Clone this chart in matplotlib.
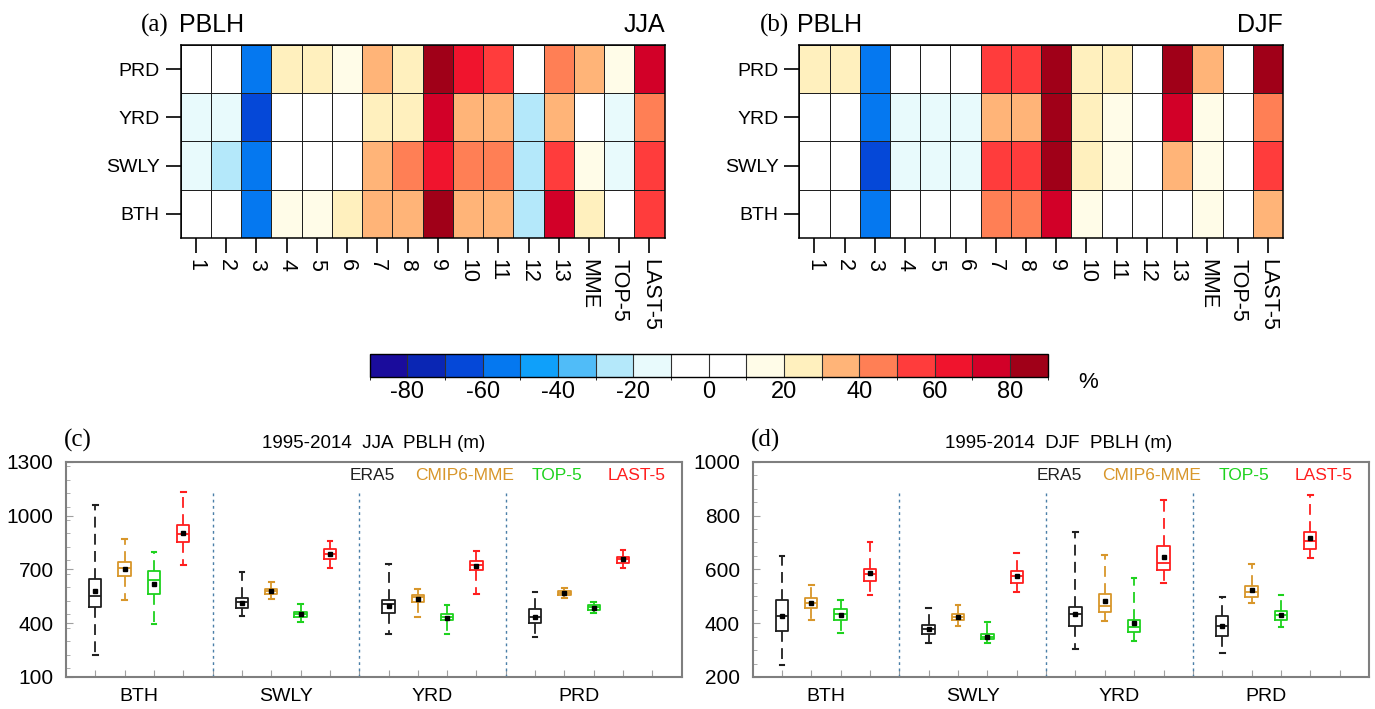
import numpy as np
import matplotlib
matplotlib.use("Agg")
import matplotlib.pyplot as plt
from matplotlib.colors import ListedColormap, BoundaryNorm
from matplotlib.cm import ScalarMappable
from matplotlib.ticker import MultipleLocator

plt.rcParams['font.family'] = ['Liberation Sans', 'DejaVu Sans']

W, H = 1375, 709

# colorbar levels and colours
niveles = np.arange(-90, 91, 10)
colores = ['#1a0c9c', '#0a26b4', '#0548d8', '#0578f0', '#0fa0fa', '#50bcf8',
           '#b4e8fa', '#e8fafc', '#ffffff', '#ffffff', '#fffce8', '#fff0be',
           '#ffb478', '#ff7f55', '#ff3c3c', '#f0142d', '#d20028', '#a00018']

modelos = ['1', '2', '3', '4', '5', '6', '7', '8', '9', '10', '11', '12', '13',
           'MME', 'TOP-5', 'LAST-5']
regiones_heat = ['PRD', 'YRD', 'SWLY', 'BTH']

# relative bias (%) for JJA, rows PRD, YRD, SWLY, BTH
jja_prd = [5, 5, -55, 25, 25, 15, 35, 25, 85, 65, 55, 5, 45, 35, 15, 75]
jja_yrd = [-15, -15, -65, 5, 5, 5, 25, 25, 75, 35, 35, -25, 35, 5, -15, 45]
jja_swly = [-15, -25, -55, 5, 5, 5, 35, 45, 65, 45, 45, -25, 55, 15, -15, 55]
jja_bth = [5, 5, -55, 15, 15, 25, 35, 35, 85, 35, 35, -25, 75, 25, 5, 55]

# relative bias (%) for DJF
djf_prd = [25, 25, -55, 5, 5, 5, 55, 55, 85, 25, 25, 5, 85, 35, 5, 85]
djf_yrd = [5, 5, -55, -15, -15, -15, 35, 35, 85, 25, 15, 5, 75, 15, 5, 45]
djf_swly = [5, 5, -65, -15, -15, -15, 55, 55, 85, 25, 15, 5, 35, 15, 5, 55]
djf_bth = [5, 5, -55, 5, 5, 5, 45, 45, 75, 15, 5, 5, 5, 15, 5, 35]

# box statistics [whislo, q1, med, q3, whishi, mean] for BTH, SWLY, YRD, PRD
regiones_box = ['BTH', 'SWLY', 'YRD', 'PRD']
series = ['ERA5', 'CMIP6-MME', 'TOP-5', 'LAST-5']
series_col = ['#202020', '#d8962a', '#1ed21e', '#ff1e1e']

jja_era5 = [[223, 490, 551, 648, 1058, 577], [440, 483, 516, 538, 685, 514],
            [341, 458, 505, 529, 730, 497], [325, 399, 432, 477, 576, 436]]
jja_mme = [[529, 663, 706, 743, 869, 700], [533, 562, 577, 590, 627, 577],
           [436, 520, 544, 555, 590, 533], [538, 559, 570, 577, 594, 568]]
jja_top5 = [[395, 561, 641, 691, 795, 620], [405, 432, 449, 462, 505, 449],
            [341, 416, 434, 449, 499, 431], [455, 475, 488, 499, 520, 486]]
jja_last5 = [[724, 852, 895, 945, 1129, 901], [707, 756, 784, 811, 858, 784],
             [564, 694, 726, 745, 802, 717], [707, 737, 756, 769, 810, 756]]
jja_yticks = [100, 400, 700, 1000, 1300]

djf_era5 = [[245, 371, 428, 485, 648, 428], [326, 361, 377, 392, 458, 377],
            [305, 389, 434, 461, 737, 434], [288, 352, 391, 427, 498, 391]]
djf_mme = [[412, 458, 475, 492, 541, 475], [388, 412, 423, 433, 467, 422],
           [409, 443, 465, 510, 653, 482], [476, 496, 517, 539, 619, 522]]
djf_top5 = [[362, 412, 434, 451, 487, 432], [328, 340, 349, 360, 403, 350],
            [335, 368, 387, 412, 567, 399], [387, 411, 429, 446, 505, 430]]
djf_last5 = [[505, 558, 583, 602, 700, 585], [517, 550, 575, 594, 659, 576],
             [549, 599, 622, 688, 858, 647], [642, 674, 707, 739, 875, 716]]
djf_yticks = [200, 400, 600, 800, 1000]


def fx(px):
    return px / W


def fy(py):
    return 1 - py / H


cmap = ListedColormap(colores)
norm = BoundaryNorm(niveles, cmap.N)

fig = plt.figure(figsize=(W / 100, H / 100), dpi=100)


def dibujar_heatmap(rect, filas, letra, estacion, x_letra, x_right):
    ax = fig.add_axes(rect)
    datos = np.array(filas)
    ax.pcolormesh(datos, cmap=cmap, norm=norm, edgecolors='#202020', linewidth=0.7)
    ax.set_xlim(0, len(modelos))
    ax.set_ylim(len(regiones_heat), 0)
    ax.set_xticks(np.arange(len(modelos)) + 0.5)
    ax.set_xticklabels(modelos, rotation=-90, fontsize=15.5, va='top')
    ax.set_yticks(np.arange(len(regiones_heat)) + 0.5)
    ax.set_yticklabels(regiones_heat, fontsize=14)
    ax.tick_params(direction='out', length=11, width=1.2, pad=4)
    for s in ax.spines.values():
        s.set_linewidth(1.1)
    left = rect[0] * W
    fig.text(fx(x_letra), fy(25), letra, family='Liberation Serif', fontsize=18,
             va='center', ha='left')
    fig.text(fx(left - 2), fy(25), 'PBLH', fontsize=18, va='center', ha='left')
    fig.text(fx(x_right), fy(25), estacion, fontsize=18, va='center', ha='right')
    return ax


dibujar_heatmap([fx(180.7), fy(238), fx(664.6 - 180.7), (238 - 45) / H],
                [jja_prd, jja_yrd, jja_swly, jja_bth], '(a)', 'JJA', 141, 665)
dibujar_heatmap([fx(799.3), fy(238), fx(1283 - 799.3), (238 - 45) / H],
                [djf_prd, djf_yrd, djf_swly, djf_bth], '(b)', 'DJF', 760, 1283)

# colorbar
cax = fig.add_axes([fx(369.8), fy(377.3), fx(1047.5 - 369.8), 23 / H])
sm = ScalarMappable(norm=norm, cmap=cmap)
cb = fig.colorbar(sm, cax=cax, orientation='horizontal', drawedges=True,
                  ticks=np.arange(-80, 81, 20))
cb.outline.set_linewidth(1.0)
cb.dividers.set_linewidth(0.8)
cb.dividers.set_color('#303030')
cax.tick_params(length=0, labelsize=17, pad=3)
cax.set_xticklabels([str(v) for v in range(-80, 81, 20)])
fig.text(fx(1088), fy(382), '%', fontsize=16, va='center', ha='center')


def dibujar_cajas(rect, datos, letra, titulo, x_letra, x_titulo, ylim, yticks, ymin):
    ax = fig.add_axes(rect)
    for j, serie in enumerate(datos):
        stats = []
        pos = []
        for g, v in enumerate(serie):
            stats.append({'whislo': v[0], 'q1': v[1], 'med': v[2], 'q3': v[3],
                          'whishi': v[4], 'mean': v[5], 'fliers': []})
            pos.append(1 + 5 * g + j)
        c = series_col[j]
        ax.bxp(stats, positions=pos, widths=0.42, capwidths=0.16,
               showmeans=True, showfliers=False,
               boxprops=dict(color=c, linewidth=1.3),
               medianprops=dict(color=c, linewidth=1.3),
               whiskerprops=dict(color=c, linewidth=1.3, linestyle=(0, (6, 3.5))),
               capprops=dict(color=c, linewidth=1.5),
               meanprops=dict(marker='s', markerfacecolor='k', markeredgecolor='k',
                              markersize=2.5))
    for xs in [5, 10, 15]:
        ax.plot([xs, xs], [ylim[0], ylim[0] + 0.865 * (ylim[1] - ylim[0])],
                color='#4a7fa8', linestyle=(0, (2, 2.5)), linewidth=1.0)
    ax.set_xlim(0, 21)
    ax.set_ylim(*ylim)
    ax.set_yticks(yticks)
    ax.yaxis.set_minor_locator(MultipleLocator(ymin))
    ax.set_xticks(np.arange(1, 21))
    ax.set_xticklabels([])
    ax.tick_params(axis='x', direction='in', length=5, color='#a0a0a0')
    ax.tick_params(axis='y', which='major', direction='in', length=5,
                   color='#a0a0a0', labelsize=15, pad=9)
    ax.tick_params(axis='y', which='minor', direction='in', length=3,
                   color='#a0a0a0')
    for s in ax.spines.values():
        s.set_color('#7f7f7f')
        s.set_linewidth(1.5)
    for g, reg in enumerate(regiones_box):
        ax.text(2.5 + 5 * g, -0.05, reg, transform=ax.get_xaxis_transform(),
                ha='center', va='top', fontsize=14)
    leg_x = [10.45, 13.58, 16.75, 19.45]
    for j, serie in enumerate(series):
        ax.text(leg_x[j], 0.934, serie, transform=ax.get_xaxis_transform(),
                ha='center', va='center', fontsize=12.5, color=series_col[j])
    fig.text(fx(x_letra), fy(440), letra, family='Liberation Serif', fontsize=18,
             va='center', ha='left')
    fig.text(fx(x_titulo), fy(443), titulo, fontsize=13.5, va='center', ha='center')
    return ax


rect_c = [fx(66), fy(677), fx(681.7 - 66), (677 - 461.7) / H]
rect_d = [fx(752.5), fy(677), fx(1369 - 752.5), (677 - 461.7) / H]
dibujar_cajas(rect_c, [jja_era5, jja_mme, jja_top5, jja_last5], '(c)',
              '1995-2014  JJA  PBLH (m)', 64, 374, (100, 1300), jja_yticks, 75)
dibujar_cajas(rect_d, [djf_era5, djf_mme, djf_top5, djf_last5], '(d)',
              '1995-2014  DJF  PBLH (m)', 751, 1059, (200, 1000), djf_yticks, 50)

fig.savefig('out.png', dpi=100)
print('Script Terminado')
